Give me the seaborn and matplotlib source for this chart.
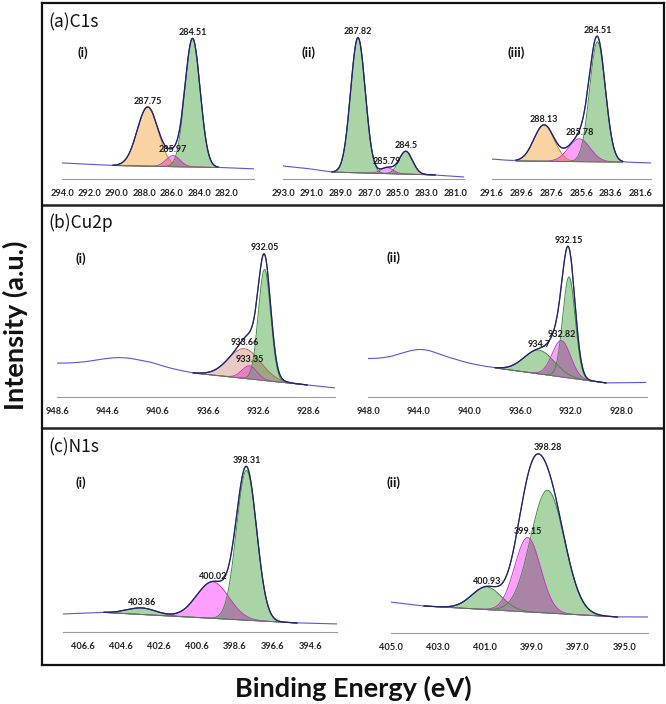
"""XPS peak fitting figure: C1s, Cu2p and N1s spectra"""

import numpy as np
import matplotlib.pyplot as plt
from matplotlib.colors import to_rgb
import seaborn as sns

# ---------------- data ----------------
# (a) C1s (i)
C1S_I_CENTER = [287.75, 285.90, 284.48]
C1S_I_HEIGHT = [35.0, 6.5, 76.0]
C1S_I_FWHM = [1.8, 1.2, 1.3]
C1S_I_LABEL = ["287.75", "285.97", "284.51"]
C1S_I_KIND = ["orange", "magenta", "green"]
C1S_I_BG_X = [294.0, 291.0, 290.3, 282.6, 280.0]
C1S_I_BG_Y = [9.5, 8.3, 8.0, 6.8, 6.0]
C1S_I_FIT = [290.3, 282.6]
C1S_I_TICKS = [294.0, 292.0, 290.0, 288.0, 286.0, 284.0, 282.0]

# (a) C1s (ii)
C1S_II_CENTER = [287.78, 285.75, 284.45]
C1S_II_HEIGHT = [80.0, 3.5, 13.5]
C1S_II_FWHM = [1.2, 1.0, 1.1]
C1S_II_LABEL = ["287.82", "285.79", "284.5"]
C1S_II_KIND = ["green", "magenta", "green"]
C1S_II_BG_X = [293.0, 291.0, 289.6, 282.4, 280.4]
C1S_II_BG_Y = [7.7, 5.9, 4.1, 2.4, 1.2]
C1S_II_FIT = [289.6, 282.4]
C1S_II_TICKS = [293.0, 291.0, 289.0, 287.0, 285.0, 283.0, 281.0]

# (a) C1s (iii)
C1S_III_CENTER = [288.10, 285.72, 284.50]
C1S_III_HEIGHT = [21.5, 13.5, 71.0]
C1S_III_FWHM = [1.6, 1.7, 1.25]
C1S_III_LABEL = ["288.13", "285.78", "284.51"]
C1S_III_KIND = ["orange", "magenta", "green"]
C1S_III_BG_X = [291.6, 290.0, 282.8, 280.9]
C1S_III_BG_Y = [11.8, 10.7, 10.0, 9.5]
C1S_III_FIT = [290.0, 282.8]
C1S_III_TICKS = [291.6, 289.6, 287.6, 285.6, 283.6, 281.6]

# (b) Cu2p (i)
CU_I_CENTER = [933.70, 933.30, 932.10]
CU_I_HEIGHT = [16.3, 7.2, 61.0]
CU_I_FWHM = [3.0, 1.4, 1.15]
CU_I_LABEL = ["933.66", "933.35", "932.05"]
CU_I_KIND = ["rosy", "magenta", "green"]
CU_I_BG_X = [948.6, 941.0, 937.8, 928.7, 926.5]
CU_I_BG_Y = [18.5, 17.2, 13.2, 6.6, 5.0]
CU_I_FIT = [937.8, 928.7]
CU_I_TICKS = [948.6, 944.6, 940.6, 936.6, 932.6, 928.6]
CU_I_SAT = [943.5, 4.0, 4.5]        # shake-up satellite: center, height, fwhm

# (b) Cu2p (ii)
CU_II_CENTER = [934.50, 932.75, 932.15]
CU_II_HEIGHT = [13.0, 20.0, 55.5]
CU_II_FWHM = [2.8, 1.7, 1.15]
CU_II_LABEL = ["934.7", "932.82", "932.15"]
CU_II_KIND = ["green", "magenta", "green"]
CU_II_BG_X = [948.0, 941.0, 938.0, 929.2, 926.1]
CU_II_BG_Y = [21.0, 19.5, 16.0, 7.7, 8.0]
CU_II_FIT = [938.0, 929.2]
CU_II_TICKS = [948.0, 944.0, 940.0, 936.0, 932.0, 928.0]
CU_II_SAT = [943.8, 6.0, 3.6]

# (c) N1s (i)
N1S_I_CENTER = [403.50, 399.75, 397.97]
N1S_I_HEIGHT = [3.4, 19.0, 78.0]
N1S_I_FWHM = [1.8, 2.0, 1.25]
N1S_I_LABEL = ["403.86", "400.02", "398.31"]
N1S_I_KIND = ["green", "magenta", "green"]
N1S_I_BG_X = [407.65, 405.5, 395.3, 393.2]
N1S_I_BG_Y = [9.4, 10.2, 4.7, 4.2]
N1S_I_FIT = [405.5, 395.3]
N1S_I_TICKS = [406.6, 404.6, 402.6, 400.6, 398.6, 396.6, 394.6]

# (c) N1s (ii)
N1S_II_CENTER = [400.90, 399.15, 398.30]
N1S_II_HEIGHT = [11.7, 38.5, 63.6]
N1S_II_FWHM = [1.5, 1.3, 1.7]
N1S_II_LABEL = ["400.93", "399.15", "398.28"]
N1S_II_KIND = ["green", "magenta", "green"]
N1S_II_BG_X = [405.0, 403.6, 395.3, 394.0]
N1S_II_BG_Y = [16.0, 14.0, 8.3, 8.3]
N1S_II_FIT = [403.6, 395.3]
N1S_II_TICKS = [405.0, 403.0, 401.0, 399.0, 397.0, 395.0]

NO_SAT = []
PANEL_TITLES = ["(a)C1s", "(b)Cu2p", "(c)N1s"]

# ---------------- styles ----------------
FILL = {"green": "#a9d5a6", "orange": "#f9d4a2", "magenta": "#ff9eff", "rosy": "#eccac4"}
EDGE = {"green": "#3f8f3f", "orange": "#c48a3c", "magenta": "#c23cc2", "rosy": "#a5705f"}
RAW_COLOR = "#5a52e6"
FIT_COLOR = "#23235f"
TICK_COLOR = "#222222"
W, H = 666, 704

# pixel boxes: left, right, top, bottom(axis line), xlim, minor ticks, tag, tag position
LAYOUT = [
    (62, 254, 10, 179, (294.0, 280.0), False, "(i)", (77, 53)),
    (283, 464, 10, 179, (293.0, 280.4), False, "(ii)", (302, 53)),
    (492, 651, 10, 179, (291.6, 280.9), False, "(iii)", (508, 53)),
    (57, 335, 215, 397, (948.6, 926.5), True, "(i)", (76, 259)),
    (368, 647, 215, 397, (948.0, 926.1), True, "(ii)", (387, 258)),
    (63, 337, 440, 632, (407.65, 393.2), False, "(i)", (75, 483)),
    (391, 648, 440, 633, (405.0, 394.0), False, "(ii)", (387, 483)),
]

SPECTRA = [
    (C1S_I_CENTER, C1S_I_HEIGHT, C1S_I_FWHM, C1S_I_LABEL, C1S_I_KIND,
     C1S_I_BG_X, C1S_I_BG_Y, C1S_I_FIT, C1S_I_TICKS, NO_SAT),
    (C1S_II_CENTER, C1S_II_HEIGHT, C1S_II_FWHM, C1S_II_LABEL, C1S_II_KIND,
     C1S_II_BG_X, C1S_II_BG_Y, C1S_II_FIT, C1S_II_TICKS, NO_SAT),
    (C1S_III_CENTER, C1S_III_HEIGHT, C1S_III_FWHM, C1S_III_LABEL, C1S_III_KIND,
     C1S_III_BG_X, C1S_III_BG_Y, C1S_III_FIT, C1S_III_TICKS, NO_SAT),
    (CU_I_CENTER, CU_I_HEIGHT, CU_I_FWHM, CU_I_LABEL, CU_I_KIND,
     CU_I_BG_X, CU_I_BG_Y, CU_I_FIT, CU_I_TICKS, CU_I_SAT),
    (CU_II_CENTER, CU_II_HEIGHT, CU_II_FWHM, CU_II_LABEL, CU_II_KIND,
     CU_II_BG_X, CU_II_BG_Y, CU_II_FIT, CU_II_TICKS, CU_II_SAT),
    (N1S_I_CENTER, N1S_I_HEIGHT, N1S_I_FWHM, N1S_I_LABEL, N1S_I_KIND,
     N1S_I_BG_X, N1S_I_BG_Y, N1S_I_FIT, N1S_I_TICKS, NO_SAT),
    (N1S_II_CENTER, N1S_II_HEIGHT, N1S_II_FWHM, N1S_II_LABEL, N1S_II_KIND,
     N1S_II_BG_X, N1S_II_BG_Y, N1S_II_FIT, N1S_II_TICKS, NO_SAT),
]


def gauss(x, center, height, fwhm):
    """Gaussian line shape of a fitted component"""
    return height * np.exp(-4 * np.log(2) * ((x - center) / fwhm) ** 2)


def multiply(c1, c2):
    """Multiply-blend two colours (overlap of transparent fills)"""
    a, b = to_rgb(c1), to_rgb(c2)
    return tuple(p * q for p, q in zip(a, b))


def px_axes(fig, left, right, top, bottom):
    return fig.add_axes([left / W, 1 - bottom / H, (right - left) / W, (bottom - top) / H])


def draw_spectrum(ax, xlim, minor, spec):
    centers, heights, fwhms, labels, kinds, bg_x, bg_y, fit, ticks, sat = spec
    x = np.linspace(min(xlim), max(xlim), 900)
    bg = np.interp(x, bg_x[::-1], bg_y[::-1])
    comps = [gauss(x, c, h, w) for c, h, w in zip(centers, heights, fwhms)]
    env = bg + np.sum(comps, axis=0)
    raw = env + (gauss(x, *sat) if sat else 0)

    # measured spectrum
    sns.lineplot(x=x, y=raw, ax=ax, color=RAW_COLOR, lw=0.8, zorder=2)

    m = (x <= fit[0]) & (x >= fit[1])
    xm, bm = x[m], bg[m]
    for comp, kind in zip(comps, kinds):
        ax.fill_between(xm, bm, bm + comp[m], color=FILL[kind], lw=0, zorder=1)
    for i in range(len(comps)):
        for j in range(i + 1, len(comps)):
            ov = np.minimum(comps[i], comps[j])[m]
            ax.fill_between(xm, bm, bm + ov, lw=0, zorder=1.1,
                            color=multiply(FILL[kinds[i]], FILL[kinds[j]]))
    for comp, kind in zip(comps, kinds):
        ax.plot(xm, bm + comp[m], color=EDGE[kind], lw=0.7, zorder=1.5)
    ax.plot(xm, bm, color="#6a6a6a", lw=0.6, zorder=1.5)
    # fitted envelope
    sns.lineplot(x=xm, y=env[m], ax=ax, color=FIT_COLOR, lw=0.9, zorder=3)

    tallest = int(np.argmax(heights))
    for k, (c, h, lab) in enumerate(zip(centers, heights, labels)):
        top = env.max() if k == tallest else np.interp(c, x, bg) + h
        ax.annotate(lab, xy=(c, top), xytext=(0, 1.0), textcoords="offset points",
                    ha="center", va="bottom", fontsize=6.5, fontweight="bold",
                    family="Lato", color="#1a1a1a", zorder=4)

    ax.set_xlim(*xlim)
    ax.set_ylim(0, 100)
    ax.set_xticks(ticks)
    ax.set_xticklabels([f"{t:.1f}" for t in ticks], fontweight="bold",
                       family="Lato", fontsize=6.7, color=TICK_COLOR)
    if minor:
        ax.set_xticks([(a + b) / 2 for a, b in zip(ticks[:-1], ticks[1:])]
                      + [ticks[-1] - (ticks[0] - ticks[1]) / 2], minor=True)
    ax.set_yticks([])
    ax.set_xlabel("")
    ax.set_ylabel("")
    for side in ["left", "right", "top"]:
        ax.spines[side].set_visible(False)
    ax.spines["bottom"].set_color("#9a9a9a")
    ax.spines["bottom"].set_linewidth(0.8)
    ax.tick_params(axis="x", which="both", direction="out", length=3, width=0.7,
                   color="#9a9a9a", pad=4)
    ax.patch.set_alpha(0)


def main():
    sns.set_style("white")
    plt.rcParams["font.family"] = ["Lato", "DejaVu Sans"]

    fig = plt.figure(figsize=(W / 100, H / 100), dpi=100)

    # outer frame with unlabeled ticks
    fl, fr, ft, fb = 42, 664, 3, 665
    frame = px_axes(fig, fl, fr, ft, fb)
    frame.set_xlim(0, fr - fl)
    frame.set_ylim(0, fb - ft)
    frame.set_xticks(np.arange(0, fr - fl + 1, 19.7))
    frame.set_yticks(np.arange(0, fb - ft + 1, 20.7))
    frame.tick_params(direction="out", length=3, width=0.8, color="#222222",
                      labelbottom=False, labelleft=False)
    for sp in frame.spines.values():
        sp.set_linewidth(1.6)
        sp.set_color("#111111")
    for ysep in [205, 428]:
        frame.axhline(fb - ysep, color="#222222", lw=1.8)
    frame.patch.set_alpha(0)

    for (l, r, t, b, xlim, minor, tag, tpos), spec in zip(LAYOUT, SPECTRA):
        ax = px_axes(fig, l, r, t, b)
        draw_spectrum(ax, xlim, minor, spec)
        fig.text(tpos[0] / W, 1 - tpos[1] / H, tag, fontsize=9.5, fontweight="bold",
                 ha="left", va="center", color="#111111")

    for title, ty in zip(PANEL_TITLES, [22, 223, 447]):
        fig.text(48 / W, 1 - ty / H, title, fontsize=12.5, ha="left", va="center",
                 family=["Noto Sans CJK JP", "DejaVu Sans"], color="#111111")

    fig.text(15 / W, 1 - 325 / H, "Intensity (a.u.)", rotation=90, fontsize=19.5,
             fontweight="bold", ha="center", va="center", color="#111111")
    fig.text(353 / W, 1 - 688 / H, "Binding Energy (eV)", fontsize=19.5,
             fontweight="bold", ha="center", va="center", color="#111111")

    fig.savefig("out.png", dpi=100)
    plt.close(fig)


if __name__ == "__main__":
    main()
